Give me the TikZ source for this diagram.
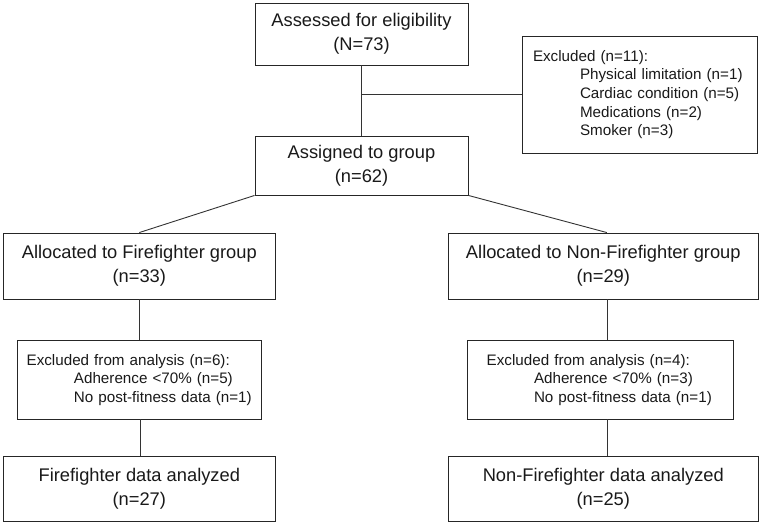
\documentclass[tikz,border=0pt]{standalone}
\usepackage{fontspec}
\setmainfont{Liberation Sans}
\begin{document}
\begin{tikzpicture}[x=1pt,y=-1pt,
  box/.style={draw=black!85,line width=0.9pt,inner sep=0pt,align=center,
    font=\fontsize{18.3}{24}\selectfont,text=black!90},
  listbox/.style={draw=black!85,line width=0.9pt,inner ysep=0pt,align=left,
    font=\fontsize{15.2}{18.6}\selectfont,text=black!90},
  conn/.style={draw=black!80,line width=0.9pt}]
\useasboundingbox (0,0) rectangle (761,525);
\node[box,minimum width=213pt,minimum height=62pt] (A) at (361.5,34) {Assessed for eligibility\\(N=73)};
\node[box,minimum width=213pt,minimum height=59pt] (B) at (361.5,165.5) {Assigned to group\\(n=62)};
\node[listbox,minimum width=235pt,minimum height=117pt,inner xsep=11pt,text width=213pt] (Excl) at (639.5,94.5)
  {Excluded (n=11):\\\hspace*{47pt}Physical limitation (n=1)\\\hspace*{47pt}Cardiac condition (n=5)\\\hspace*{47pt}Medications (n=2)\\\hspace*{47pt}Smoker (n=3)};
\node[box,minimum width=272pt,minimum height=66pt] (FF) at (139.3,266) {Allocated to Firefighter group\\(n=33)};
\node[box,minimum width=310pt,minimum height=66pt] (NFF) at (603.3,266) {Allocated to Non-Firefighter group\\(n=29)};
\node[listbox,minimum height=78.3pt,inner xsep=9pt,text width=225.3pt] (ExFF) at (139.3,379.8)
  {Excluded from analysis (n=6):\\\hspace*{47.3pt}Adherence {<}70\% (n=5)\\\hspace*{47.3pt}No post-fitness data (n=1)};
\node[listbox,minimum height=78.3pt,inner xsep=19pt,text width=227.6pt] (ExNFF) at (600.5,379.8)
  {Excluded from analysis (n=4):\\\hspace*{47.3pt}Adherence {<}70\% (n=3)\\\hspace*{47.3pt}No post-fitness data (n=1)};
\node[box,minimum width=272pt,minimum height=65pt] (AnFF) at (139.3,489.2) {Firefighter data analyzed\\(n=27)};
\node[box,minimum width=310pt,minimum height=65pt] (AnNFF) at (603.3,489.2) {Non-Firefighter data analyzed\\(n=25)};
\coordinate (J) at (A.south |- Excl.west);
\draw[conn] (A.south) -- (B.north);
\draw[conn] (J) -- (Excl.west);
\draw[conn] (B.south west) -- (FF.north);
\draw[conn] (B.south east) -- ([xshift=3.5pt]NFF.north);
\draw[conn] (FF.south) -- (FF.south |- ExFF.north);
\draw[conn] ([xshift=1.5pt]ExFF.south) -- ([xshift=1.5pt]ExFF.south |- AnFF.north);
\draw[conn] ([xshift=4.4pt]NFF.south) -- ([xshift=4.4pt]NFF.south |- ExNFF.north);
\draw[conn] ([xshift=4.4pt]NFF.south |- ExNFF.south) -- ([xshift=4.4pt]NFF.south |- AnNFF.north);
\end{tikzpicture}
\end{document}
